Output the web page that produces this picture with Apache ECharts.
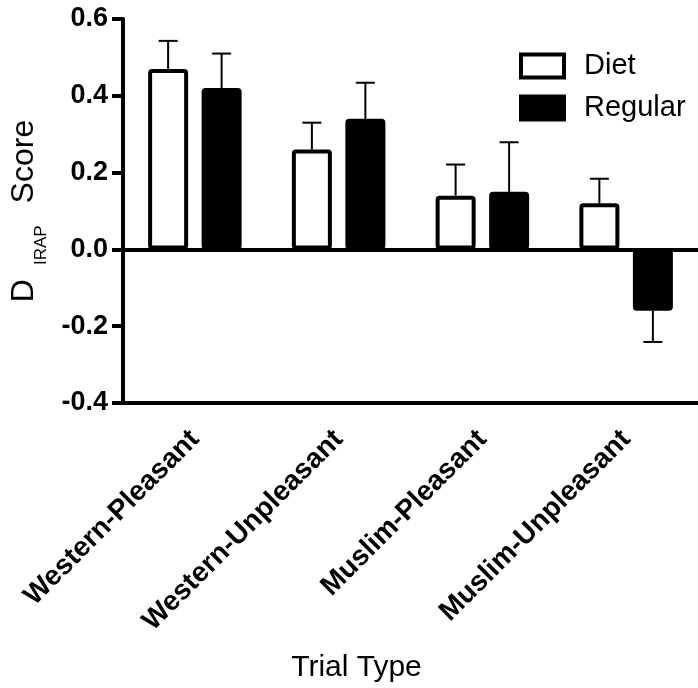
<!DOCTYPE html>
<html><head><meta charset="utf-8">
<script src="https://cdn.jsdelivr.net/npm/echarts@6/dist/echarts.min.js"></script>
<style>html,body{margin:0;padding:0;background:#fff}#c{width:698px;height:688px}</style>
</head><body><div id="c"></div>
<script>
const categories = ['Western-Pleasant', 'Western-Unpleasant', 'Muslim-Pleasant', 'Muslim-Unpleasant'];
const dietValues = [0.47, 0.26, 0.14, 0.12];
const dietErrors = [0.073, 0.07, 0.081, 0.064];
const regularValues = [0.42, 0.34, 0.15, -0.16];
const regularErrors = [0.09, 0.094, 0.129, 0.081];
const yTicks = { min: -0.4, max: 0.6, interval: 0.2 };

const FONT = '"Liberation Sans", Arial, sans-serif';
const BAR_W = 40, BAR_GAP_PX = 13.5;
const OFF = (BAR_W + BAR_GAP_PX) / 2;

function errSeries(name, values, errors, sign) {
  return {
    type: 'custom', name: name + '_err', z: 1, silent: true,
    data: values.map((v, i) => [i, v, errors[i]]),
    renderItem: function (params, api) {
      const ci = api.value(0), v = api.value(1), e = api.value(2);
      const dir = v >= 0 ? 1 : -1;
      const b = api.coord([ci, v]);
      const t = api.coord([ci, v + dir * e]);
      const x = b[0] + sign * OFF;
      const st = { stroke: '#000', lineWidth: 2 };
      return { type: 'group', children: [
        { type: 'line', shape: { x1: x, y1: b[1], x2: x, y2: t[1] }, style: st },
        { type: 'line', shape: { x1: x - 9.5, y1: t[1], x2: x + 9.5, y2: t[1] }, style: st }
      ]};
    }
  };
}

const chart = echarts.init(document.getElementById('c'));
chart.setOption({
  backgroundColor: '#fff',
  animation: false,
  textStyle: { fontFamily: FONT, color: '#000' },
  grid: { left: 123, right: 0, top: 19, bottom: 285, containLabel: false, outerBoundsMode: 'none' },
  legend: {
    left: 514, top: 46, orient: 'vertical', itemWidth: 43, itemHeight: 23, itemGap: 12,
    icon: 'rect',
    textStyle: { fontFamily: FONT, fontSize: 29, color: '#000', lineHeight: 30, padding: [0, 0, 0, 15] },
    data: [
      { name: 'Diet', itemStyle: { color: '#fff', borderColor: '#000', borderWidth: 4 } },
      { name: 'Regular', itemStyle: { color: '#000', borderColor: '#000', borderWidth: 4 } }
    ]
  },
  xAxis: {
    type: 'category', data: categories,
    axisLine: { onZero: false, lineStyle: { color: '#000', width: 4 } },
    axisTick: { alignWithLabel: true, length: 10, lineStyle: { color: '#000', width: 4 } },
    axisLabel: { interval: 0, rotate: 45, margin: 32, fontFamily: FONT, fontSize: 28, fontWeight: 'bold', color: '#000' },
    name: 'Trial Type', nameLocation: 'middle', nameGap: 250,
    nameTextStyle: { fontFamily: FONT, fontSize: 30, color: '#000', padding: [0, 108, 0, 0] }
  },
  yAxis: {
    type: 'value', min: yTicks.min, max: yTicks.max, interval: yTicks.interval,
    splitLine: { show: false },
    axisLine: { show: true, lineStyle: { color: '#000', width: 4 } },
    axisTick: { show: true, length: 11, lineStyle: { color: '#000', width: 4 } },
    axisLabel: { margin: 15, fontFamily: FONT, fontSize: 27, fontWeight: 'bold', color: '#000',
      formatter: v => v.toFixed(1) },
    name: '{a|D}{b|IRAP}{a|Score}', nameLocation: 'middle', nameRotate: 90, nameGap: 73,
    nameTextStyle: {
      rich: {
        a: { fontFamily: FONT, fontSize: 32, color: '#000' },
        b: { fontFamily: FONT, fontSize: 17, color: '#000', padding: [34, 22, 0, 14] }
      }
    }
  },
  series: [
    {
      name: 'Diet', type: 'bar', data: dietValues, barWidth: BAR_W, barGap: (BAR_GAP_PX / BAR_W * 100) + '%',
      itemStyle: { color: '#fff', borderColor: '#000', borderWidth: 4, borderRadius: 2 },
      markLine: { silent: true, symbol: 'none', label: { show: false },
        lineStyle: { color: '#000', width: 4, type: 'solid' }, data: [{ yAxis: 0 }] }
    },
    {
      name: 'Regular', type: 'bar', data: regularValues, barWidth: BAR_W,
      itemStyle: { color: '#000', borderColor: '#000', borderWidth: 4, borderRadius: 2 }
    },
    errSeries('Diet', dietValues, dietErrors, -1),
    errSeries('Regular', regularValues, regularErrors, 1)
  ]
});
</script></body></html>
